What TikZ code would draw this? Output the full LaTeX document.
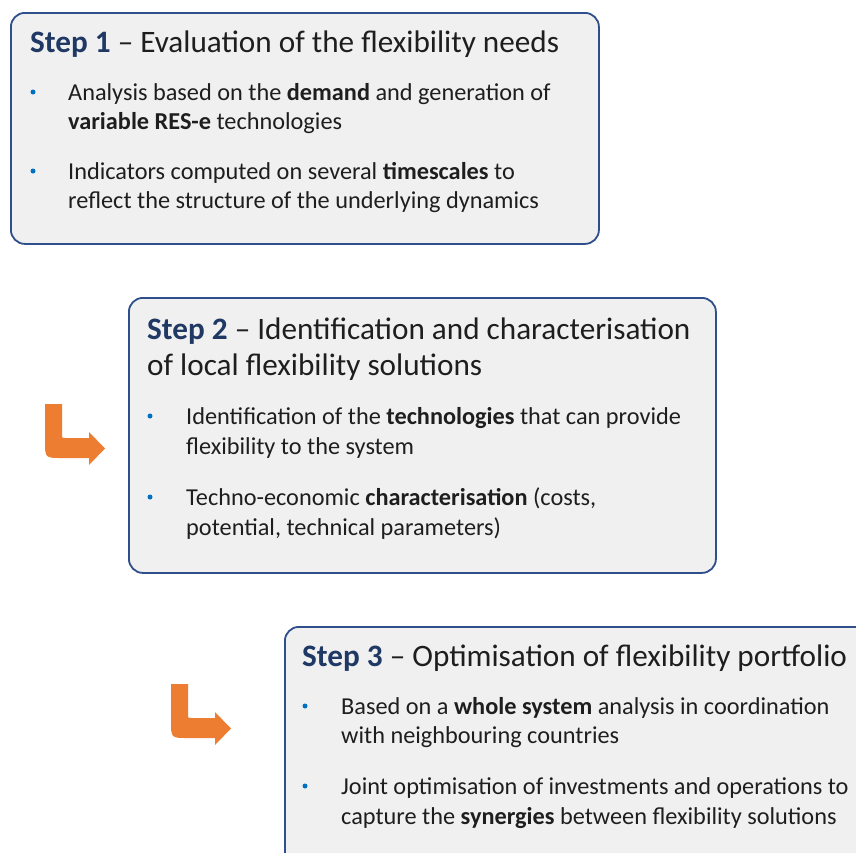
\documentclass[tikz,border=0pt]{standalone}
\usepackage{fontspec}
\setmainfont{Carlito}
\definecolor{boxblue}{HTML}{2F4F8C}
\definecolor{boxgrey}{HTML}{F0F0F0}
\definecolor{navy}{HTML}{1F3864}
\definecolor{bulletblue}{HTML}{0070C0}
\definecolor{arrowor}{HTML}{ED7D31}
\definecolor{txt}{HTML}{1E1E1E}
\begin{document}
\begin{tikzpicture}[x=1pt,y=-1pt,
  stepbox/.style={draw=boxblue, line width=1.8pt, fill=boxgrey, rounded corners=14pt, anchor=north west, inner sep=0pt},
  title/.style={anchor=base west, font=\fontsize{31.2}{36}\selectfont, inner sep=0pt, text=txt},
  body/.style={anchor=base west, font=\fontsize{24.3}{29}\selectfont, inner sep=0pt, text=txt},
  bdot/.style={circle, fill=bulletblue, inner sep=0pt, minimum size=5pt},
  turnarrow/.style={fill=arrowor, draw=none}
]
\useasboundingbox (0,0) rectangle (856,852);
\clip (0,0) rectangle (856,852);
\fill[white] (0,0) rectangle (856,852);

% Step 1
\node[stepbox, minimum width=588pt, minimum height=231pt] (box1) at (10,12) {};
\node[title] (t1) at (30,52) {\textbf{\color{navy}Step 1} – Evaluation of the flexibility needs};
\node[bdot] (d11) at (33,92) {};
\node[body] (l111) at (68,100) {Analysis based on the \textbf{demand} and generation of};
\node[body] (l112) at (68,129) {\textbf{variable RES-e} technologies};
\node[bdot] (d12) at (33,171) {};
\node[body] (l121) at (68,179) {Indicators computed on several \textbf{timescales} to};
\node[body] (l122) at (68,208) {reflect the structure of the underlying dynamics};

% Step 2
\node[stepbox, minimum width=587pt, minimum height=275pt] (box2) at (128,297) {};
\node[title] (t21) at (147,339) {\textbf{\color{navy}Step 2} – Identification and characterisation};
\node[title] (t22) at (147,375) {of local flexibility solutions};
\node[bdot] (d21) at (150,416) {};
\node[body] (l211) at (186,424) {Identification of the \textbf{technologies} that can provide};
\node[body] (l212) at (186,454) {flexibility to the system};
\node[bdot] (d22) at (150,497) {};
\node[body] (l221) at (186,505) {Techno-economic \textbf{characterisation} (costs,};
\node[body] (l222) at (186,535) {potential, technical parameters)};

% Step 3
\node[stepbox, minimum width=620pt, minimum height=300pt] (box3) at (284,626) {};
\node[title] (t3) at (302,666) {\textbf{\color{navy}Step 3} – Optimisation of flexibility portfolio};
\node[bdot] (d31) at (305,706) {};
\node[body] (l311) at (341,714) {Based on a \textbf{whole system} analysis in coordination};
\node[body] (l312) at (341,743) {with neighbouring countries};
\node[bdot] (d32) at (305,786) {};
\node[body] (l321) at (341,794) {Joint optimisation of investments and operations to};
\node[body] (l322) at (341,824) {capture the \textbf{synergies} between flexibility solutions};

% arrows
\foreach \dx/\dy in {0/0, 126/280}{
  \begin{scope}[shift={(\dx,\dy)}]
  \fill[turnarrow] (45,404) -- (62,404) -- (62,434)
    .. controls (62,438) .. (66,438) -- (89,438) -- (89,432)
    -- (105,448.5) -- (89,465) -- (89,458) -- (62,458)
    .. controls (45,458) .. (45,441) -- cycle;
  \end{scope}
}
\end{tikzpicture}
\end{document}
